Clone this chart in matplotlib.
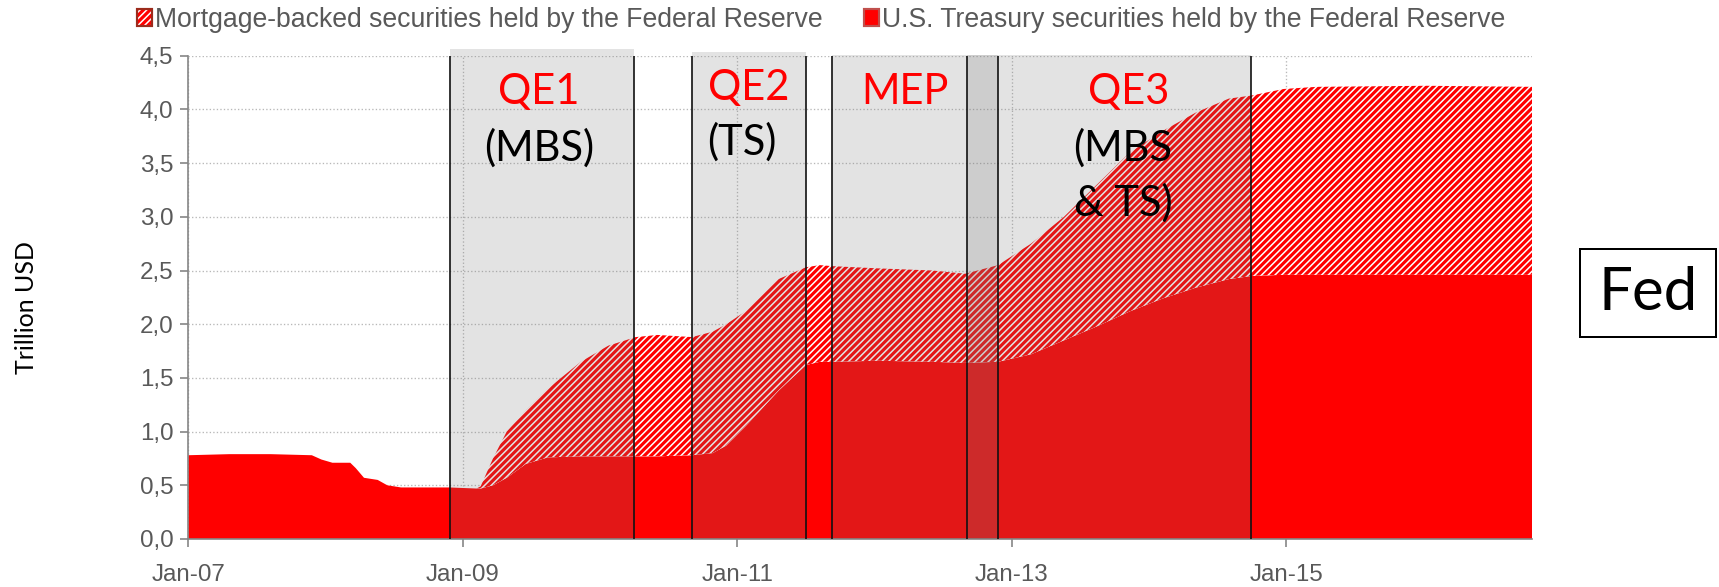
import matplotlib
matplotlib.use("Agg")
import matplotlib.pyplot as plt
from matplotlib.patches import Patch, Rectangle
from matplotlib.legend_handler import HandlerTuple
import numpy as np

# ---------------- data ----------------
dates = [2007.0, 2007.3, 2007.6, 2007.9, 2007.97, 2008.05, 2008.18, 2008.22, 2008.28,
         2008.38, 2008.45, 2008.55, 2008.9, 2009.1, 2009.13, 2009.22, 2009.32, 2009.46,
         2009.62, 2009.86, 2010.06, 2010.26, 2010.42, 2010.67, 2010.82, 2010.92, 2011.06,
         2011.3, 2011.5, 2011.6, 2011.7, 2012.02, 2012.42, 2012.66, 2012.9, 2013.14,
         2013.38, 2013.62, 2013.86, 2014.1, 2014.34, 2014.58, 2014.75, 2014.98, 2015.22,
         2016.02, 2016.8]
treasury = [0.78, 0.79, 0.79, 0.78, 0.74, 0.71, 0.71, 0.66, 0.57,
            0.55, 0.50, 0.48, 0.48, 0.47, 0.47, 0.50, 0.57, 0.70,
            0.76, 0.77, 0.77, 0.77, 0.77, 0.78, 0.80, 0.87, 1.05,
            1.38, 1.62, 1.65, 1.65, 1.66, 1.65, 1.64, 1.65, 1.72,
            1.85, 1.98, 2.12, 2.24, 2.34, 2.42, 2.45, 2.46, 2.46,
            2.46, 2.46]
mbs = [0.0, 0.0, 0.0, 0.0, 0.0, 0.0, 0.0, 0.0, 0.0,
       0.0, 0.0, 0.0, 0.0, 0.0, 0.02, 0.25, 0.43, 0.50,
       0.64, 0.88, 1.03, 1.11, 1.13, 1.10, 1.13, 1.13, 1.07,
       1.04, 0.91, 0.90, 0.89, 0.86, 0.85, 0.83, 0.90, 1.03,
       1.15, 1.32, 1.48, 1.56, 1.63, 1.68, 1.68, 1.73, 1.75,
       1.76, 1.75]

# programme periods (decimal years)
period_names = ["QE1", "QE2", "MEP", "QE3"]
period_start = [2008.91, 2010.67, 2011.69, 2012.67]
period_end = [2010.25, 2011.50, 2012.90, 2014.745]
period_top = [4.56, 4.53, 4.51, 4.51]

xtick_pos = [2007, 2009, 2011, 2013, 2015]
xtick_labels = ["Jan-07", "Jan-09", "Jan-11", "Jan-13", "Jan-15"]
ytick_pos = [0.0, 0.5, 1.0, 1.5, 2.0, 2.5, 3.0, 3.5, 4.0, 4.5]
ytick_labels = ["0,0", "0,5", "1,0", "1,5", "2,0", "2,5", "3,0", "3,5", "4,0", "4,5"]

legend_labels = ["Mortgage-backed securities held by the Federal Reserve",
                 "U.S. Treasury securities held by the Federal Reserve"]

# ---------------- style ----------------
DPI = 120
plt.rcParams['font.family'] = ['Liberation Sans', 'DejaVu Sans']
plt.rcParams['hatch.linewidth'] = 1.9
plt.rcParams['hatch.color'] = 'red'

fig = plt.figure(figsize=(1719 / DPI, 587 / DPI), dpi=DPI)
ax = fig.add_axes([188.3 / 1719, 1 - 539 / 587, (1532 - 188.3) / 1719, (539 - 55.7) / 587])

x = np.array(dates)
t = np.array(treasury)
tot = t + np.array(mbs)

ax.fill_between(x, 0, t, facecolor='#ff0000', edgecolor='none', linewidth=0, zorder=2)
ax.fill_between(x, t, tot, facecolor='white', edgecolor='#ff0000', hatch='//////',
                linewidth=0, zorder=2)

# shaded programme periods, drawn on top
for s, e, top in zip(period_start, period_end, period_top):
    ax.fill_between([s, e], 0, top, color='#777777', alpha=0.2, linewidth=0,
                    zorder=3, clip_on=False)
vline_x = sorted(set(period_start + period_end))
ax.vlines(vline_x, 0, 4.5, color='#111111', linewidth=1.0, zorder=4, clip_on=False)

ax.set_xlim(2007.0, 2016.79)
ax.set_ylim(0, 4.5)
ax.set_xticks(xtick_pos)
ax.set_xticklabels(xtick_labels)
ax.set_yticks(ytick_pos)
ax.set_yticklabels(ytick_labels)
ax.tick_params(colors='#868686', labelcolor='#595959', labelsize=14.5, length=5, width=1)
ax.tick_params(axis='x', pad=10)
ax.tick_params(axis='y', pad=4)
ax.grid(True, linestyle=':', color='#b8b8b8', linewidth=0.8, zorder=0)
ax.set_axisbelow(True)
for sp in ['top', 'right']:
    ax.spines[sp].set_visible(False)
for sp in ['left', 'bottom']:
    ax.spines[sp].set_color('#868686')
    ax.spines[sp].set_linewidth(1.0)

# annotations
red_kw = dict(color='#ff0000', fontsize=25, family=['Lato', 'DejaVu Sans'], ha='center', va='center', zorder=6)
blk_kw = dict(color='black', fontsize=25, family=['Lato', 'DejaVu Sans'], va='center', zorder=6)
ax.text(2009.556, 4.16, "QE1", **red_kw)
ax.text(2009.556, 3.64, "(MBS)", ha='center', **blk_kw)
ax.text(2011.08, 4.20, "QE2", **red_kw)
ax.text(2011.03, 3.70, "(TS)", ha='center', **blk_kw)
ax.text(2012.22, 4.16, "MEP", **red_kw)
ax.text(2013.85, 4.16, "QE3", **red_kw)
ax.text(2013.45, 3.64, "(MBS", ha='left', **blk_kw)
ax.text(2013.45, 3.13, "& TS)", ha='left', **blk_kw)

# y label
fig.text(27 / 1719, 1 - 307 / 587, "Trillion USD", rotation=90, ha='center', va='center',
         fontsize=15, family=['Lato', 'DejaVu Sans'], color='black')

# Fed box
fig.add_artist(Rectangle((1580 / 1719, 1 - 337 / 587), 136 / 1719, 88 / 587,
                         transform=fig.transFigure, facecolor='white', edgecolor='black',
                         linewidth=1.2))
fig.text(1648 / 1719, 1 - 293 / 587, "Fed", ha='center', va='center', fontsize=36,
         family=['Lato', 'DejaVu Sans'], color='black')

# legend (two separate entries placed at their positions)
h_mbs = (Patch(facecolor='white', edgecolor='#ff0000', hatch='//////', linewidth=0),
         Patch(facecolor='none', edgecolor='#9c2b1c', linewidth=1.3))
h_ts = (Patch(facecolor='#ff0000', edgecolor='none'),
        Patch(facecolor='none', edgecolor='#c0504d', linewidth=1.3))
leg_kw = dict(loc='center left', frameon=False, fontsize=16, handlelength=0.56,
              handleheight=0.62, handletextpad=0.1, borderpad=0, borderaxespad=0,
              labelcolor='#595959', handler_map={tuple: HandlerTuple(ndivide=1, pad=0)})
leg1 = fig.legend([h_mbs], [legend_labels[0]], bbox_to_anchor=(137 / 1719, 1 - 20 / 587), **leg_kw)
leg2 = fig.legend([h_ts], [legend_labels[1]], bbox_to_anchor=(864 / 1719, 1 - 20 / 587), **leg_kw)

fig.savefig("out.png", dpi=DPI)
